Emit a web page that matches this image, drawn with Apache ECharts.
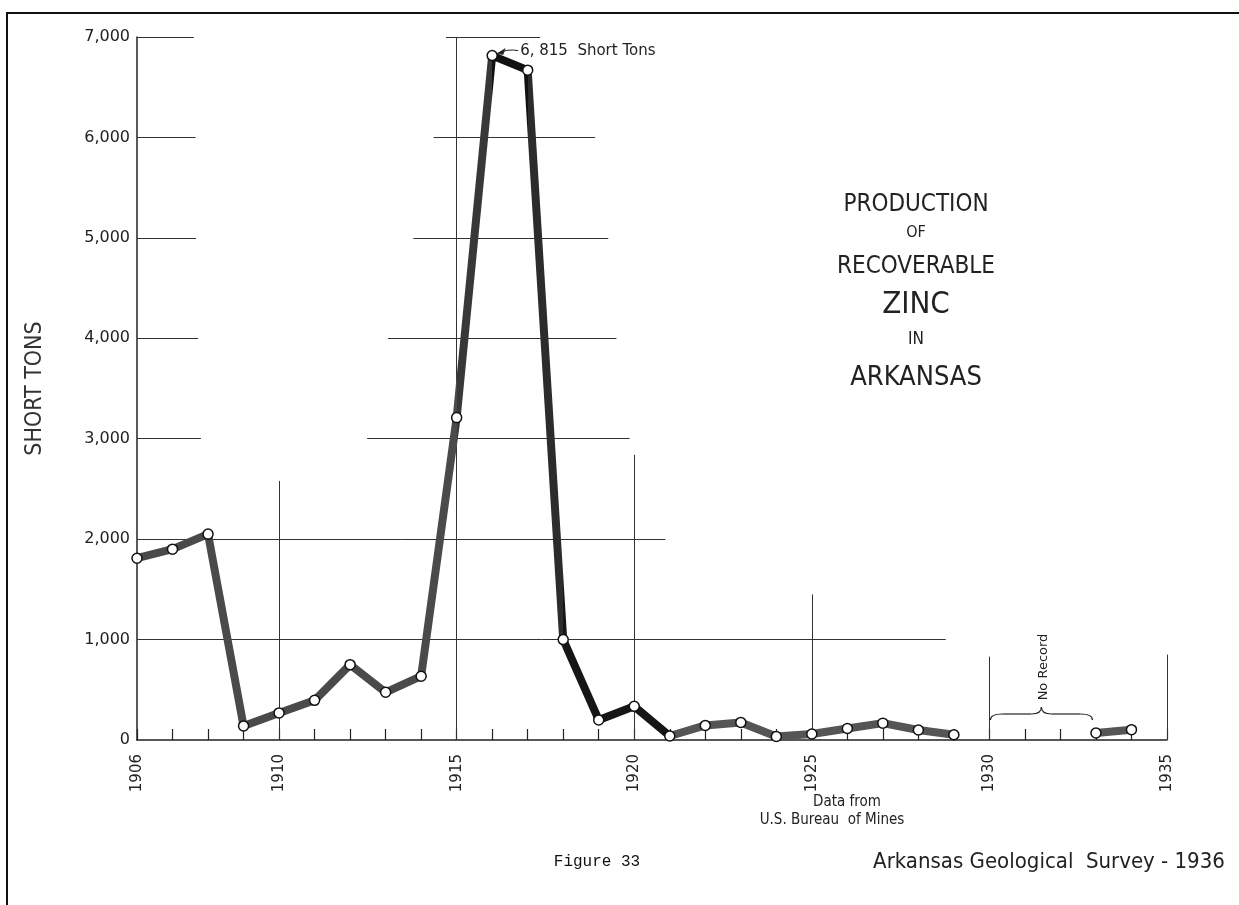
<!DOCTYPE html>
<html>
<head>
<meta charset="utf-8">
<script src="https://cdn.jsdelivr.net/npm/echarts@6/dist/echarts.min.js"></script>
<style>
html,body{margin:0;padding:0;background:#fff;}
#chart{width:1239px;height:905px;}
</style>
</head>
<body>
<div id="chart"></div>
<script>
// ---- data ----
const years = [1906,1907,1908,1909,1910,1911,1912,1913,1914,1915,1916,1917,1918,1919,1920,1921,1922,1923,1924,1925,1926,1927,1928,1929,1930,1931,1932,1933,1934];
const shortTons = [1810,1900,2050,140,270,395,750,475,635,3210,6815,6670,1000,200,335,40,145,175,35,60,115,168,100,52,null,null,null,70,103];
const xLabelYears = [1906,1910,1915,1920,1925,1930,1935];
const yTicks = [0,1000,2000,3000,4000,5000,6000,7000];
const titleLines = ['PRODUCTION','OF','RECOVERABLE','ZINC','IN','ARKANSAS'];
const peakNote = '6, 815  Short Tons';
const noRecordYears = [1930, 1932.9];
// drafted partial grid segments (data units): [x1, y1, x2, y2]
const gridSegments = [
  [1906,7000,1907.6,7000],[1914.7,7000,1917.35,7000],
  [1906,6000,1907.65,6000],[1914.35,6000,1918.9,6000],
  [1906,5000,1907.66,5000],[1913.78,5000,1919.27,5000],
  [1906,4000,1907.72,4000],[1913.07,4000,1919.5,4000],
  [1906,3000,1907.8,3000],[1912.48,3000,1919.87,3000],
  [1906,2000,1920.88,2000],
  [1906,1000,1928.77,1000],
  [1910,0,1910,2580],[1915,0,1915,7000],[1920,0,1920,2840],
  [1925,0,1925,1450],[1930,0,1930,830],[1935,0,1935,850]
];

const points = years.map((y,i)=>[y, shortTons[i]]);
const labelFont = "'DejaVu Sans', sans-serif";
const narrowFont = "'Liberation Sans Narrow','DejaVu Sans Condensed','DejaVu Sans',sans-serif";

const chart = echarts.init(document.getElementById('chart'), null, {renderer:'canvas'});

const option = {
  backgroundColor:'#ffffff',
  animation:false,
  grid:{left:137, right:72, top:37, bottom:165, containLabel:false},
  xAxis:{
    type:'value', min:1906, max:1935, interval:1,
    axisLine:{show:true, lineStyle:{color:'#222', width:1.5}},
    axisTick:{show:true, inside:true, length:11, lineStyle:{color:'#222', width:1.2}},
    splitLine:{show:false},
    axisLabel:{
      rotate:90, margin:14, color:'#222', fontFamily:labelFont, fontSize:15,
      formatter:v => xLabelYears.indexOf(v) >= 0 ? String(v) : ''
    }
  },
  yAxis:{
    type:'value', min:0, max:7000, interval:1000,
    axisLine:{show:true, lineStyle:{color:'#222', width:1.5}},
    axisTick:{show:false},
    splitLine:{show:false},
    axisLabel:{
      margin:7, color:'#222', fontFamily:labelFont, fontSize:16,
      formatter:v => yTicks.indexOf(v) >= 0 ? v.toLocaleString('en-US') : ''
    },
    name:'SHORT TONS', nameLocation:'middle', nameGap:90, nameRotate:90,
    nameTextStyle:{color:'#333', fontFamily:narrowFont, fontSize:23, fontWeight:'normal'}
  },
  visualMap:{
    show:false, type:'piecewise', dimension:0, seriesIndex:0,
    pieces:[
      {gte:1906, lt:1915, color:'#4a4a4a'},
      {gte:1915, lt:1916, color:'#383838'},
      {gte:1916, lt:1917, color:'#111111'},
      {gte:1917, lt:1918, color:'#2c2c2c'},
      {gte:1918, lt:1921, color:'#161616'},
      {gte:1921, lte:1935, color:'#555555'}
    ]
  },
  series:[
    {
      type:'line', data:points, showSymbol:false, connectNulls:false,
      lineStyle:{width:8, cap:'round', join:'round'},
      z:3
    },
    {
      type:'scatter', data:points, symbol:'circle', symbolSize:10,
      itemStyle:{color:'#ffffff', borderColor:'#111', borderWidth:1.5, opacity:1},
      z:5,
      label:{show:false},
      markLine:{
        silent:true, symbol:'none', animation:false,
        lineStyle:{color:'#333', width:1, type:'solid'},
        label:{show:false},
        z:1,
        data: gridSegments.map(s => [{coord:[s[0],s[1]]},{coord:[s[2],s[3]]}])
      }
    }
  ]
};
chart.setOption(option);

// annotations positioned via the chart's own scales
const px = (x,y) => chart.convertToPixel({gridIndex:0}, [x,y]);
const peakIdx = shortTons.indexOf(Math.max(...shortTons.filter(v=>v!=null)));
const pk = px(years[peakIdx], shortTons[peakIdx]);
const b1 = px(noRecordYears[0], 0), b2 = px(noRecordYears[1], 0);
const bx1 = b1[0]+1, bx2 = b2[0], bm = (bx1+bx2)/2;
const by0 = b1[1]-20, by1 = b1[1]-26, by2 = b1[1]-33;

const stroke = {stroke:'#222', lineWidth:1.2, fill:null};
const graphics = [
  // frame
  {type:'line', shape:{x1:7, y1:13, x2:7, y2:905}, style:{stroke:'#111', lineWidth:2}, silent:true},
  {type:'line', shape:{x1:6, y1:13, x2:1239, y2:13}, style:{stroke:'#111', lineWidth:2}, silent:true},
  // peak note arrow
  {type:'bezierCurve', shape:{x1:pk[0]+5, y1:pk[1]-2, cpx1:pk[0]+14, cpy1:pk[1]-7, x2:pk[0]+26, y2:pk[1]-5}, style:{stroke:'#222', lineWidth:1, fill:null}, silent:true},
  {type:'polygon', shape:{points:[[pk[0]+5,pk[1]-2],[pk[0]+13,pk[1]-7],[pk[0]+11,pk[1]-1]]}, style:{fill:'#222', stroke:'#222', lineWidth:0.5}, silent:true},
  {type:'text', x:pk[0]+28, y:pk[1]-4, style:{text:peakNote, fontFamily:labelFont, fontSize:15, fill:'#222', verticalAlign:'middle', align:'left'}, silent:true},
  // no record brace
  {type:'bezierCurve', shape:{x1:bx1, y1:by0, cpx1:bx1, cpy1:by1, x2:bx1+12, y2:by1}, style:stroke, silent:true},
  {type:'line', shape:{x1:bx1+12, y1:by1, x2:bm-10, y2:by1}, style:stroke, silent:true},
  {type:'bezierCurve', shape:{x1:bm-10, y1:by1, cpx1:bm, cpy1:by1, x2:bm, y2:by2}, style:stroke, silent:true},
  {type:'bezierCurve', shape:{x1:bm, y1:by2, cpx1:bm, cpy1:by1, x2:bm+10, y2:by1}, style:stroke, silent:true},
  {type:'line', shape:{x1:bm+10, y1:by1, x2:bx2-12, y2:by1}, style:stroke, silent:true},
  {type:'bezierCurve', shape:{x1:bx2-12, y1:by1, cpx1:bx2, cpy1:by1, x2:bx2, y2:by0}, style:stroke, silent:true},
  {type:'text', x:bm+2, y:by2-40, rotation:Math.PI/2, style:{text:'No Record', fontFamily:labelFont, fontSize:13, fill:'#222', align:'center', verticalAlign:'middle'}, silent:true},
  // source & footer
  {type:'text', x:847, y:802, style:{text:'Data from', fontFamily:narrowFont, fontSize:15, fill:'#222', align:'center', verticalAlign:'middle'}, silent:true},
  {type:'text', x:832, y:820, style:{text:'U.S. Bureau  of Mines', fontFamily:narrowFont, fontSize:15, fill:'#222', align:'center', verticalAlign:'middle'}, silent:true},
  {type:'text', x:597, y:862, style:{text:'Figure 33', fontFamily:"'Liberation Mono','DejaVu Sans Mono',monospace", fontSize:16, fill:'#111', align:'center', verticalAlign:'middle'}, silent:true},
  {type:'text', x:1049, y:862, style:{text:'Arkansas Geological  Survey - 1936', fontFamily:narrowFont, fontSize:22, fill:'#222', align:'center', verticalAlign:'middle'}, silent:true}
];
const titleSpec = [
  {y:205, s:24},{y:233, s:16},{y:267, s:24},{y:305, s:31},{y:340, s:17},{y:378, s:27}
];
titleLines.forEach((t,i) => graphics.push({type:'text', x:916, y:titleSpec[i].y, style:{text:t, fontFamily:narrowFont, fontSize:titleSpec[i].s, fill:'#222', align:'center', verticalAlign:'middle'}, silent:true}));

chart.setOption({graphic:graphics});
</script>
</body>
</html>
